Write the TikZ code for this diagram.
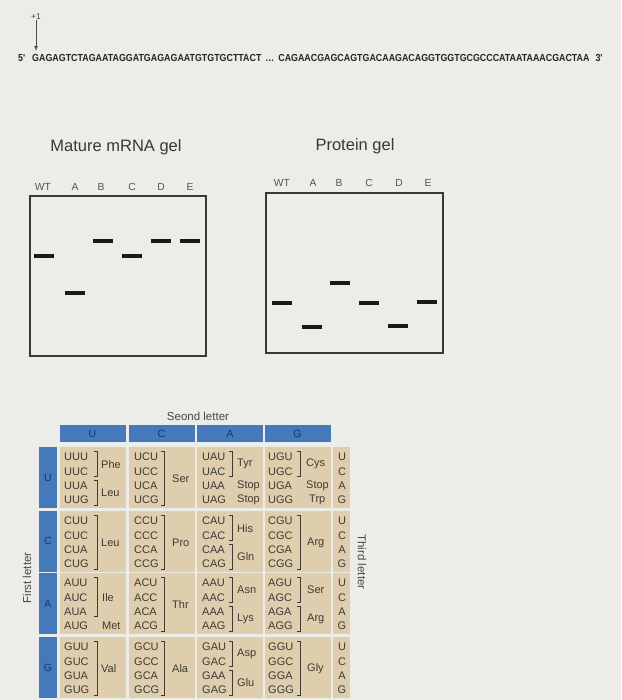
\documentclass[tikz,border=0pt]{standalone}
\usepackage{fontspec}
\setmainfont{Liberation Sans}
\newfontfamily\seqfont{Liberation Sans}[FakeStretch=0.87]
\definecolor{paper}{RGB}{236,236,233}
\definecolor{tan}{RGB}{222,206,174}
\definecolor{headblue}{RGB}{68,121,186}
\definecolor{headtext}{RGB}{28,52,96}
\definecolor{ink}{RGB}{62,58,53}
\begin{document}
\begin{tikzpicture}[x=1pt,y=-1pt,
	band/.style={fill=black!90, minimum width=20pt, minimum height=3.5pt, inner sep=0pt},
	lanelab/.style={inner sep=0pt, text=black!68, font=\fontsize{10.3}{10}\selectfont},
	geltitle/.style={inner sep=0pt, text=black!78, font=\fontsize{16.5}{17}\selectfont},
	gelbox/.style={draw=black!78, line width=1.8pt},
	headcell/.style={fill=headblue, text=headtext, inner sep=0pt, minimum height=17pt, font=\fontsize{10.5}{10}\selectfont},
	cell/.style={fill=tan, inner sep=0pt, minimum height=61pt},
	codon/.style={anchor=west, inner sep=0pt, text=ink, font=\fontsize{11}{11}\selectfont},
	aa/.style={inner sep=0pt, text=ink, font=\fontsize{11}{11}\selectfont},
	side/.style={inner sep=0pt, text=black!72, font=\fontsize{11.5}{11}\selectfont},
	brk/.style={draw=ink, line width=0.8pt}]
	\fill[paper] (0,0) rectangle (621,700);
	\useasboundingbox (0,0) rectangle (621,700);
	% sequence
	\node[inner sep=0pt, text=black!75, font=\fontsize{8.5}{9}\selectfont] (plus) at (36,17) {+1};
	\coordinate (tip) at (36,51);
	\draw[->,>=latex, black!70, line width=0.7pt] (plus) -- (tip);
	\node[anchor=west, inner sep=0pt, text=black!85, font={\fontsize{10.2}{10}\seqfont\bfseries}] (seq) at (18,57.5)
		{5'\hspace{7pt}GAGAGTCTAGAATAGGATGAGAGAATGTGTGCTTACT\hspace{4pt}…\hspace{4pt}CAGAACGAGCAGTGACAAGACAGGTGGTGCGCCCATAATAAACGACTAA\hspace{6pt}3'};
	% gels
	\node[geltitle] (mtitle) at (116,147) {Mature mRNA gel};
	\node[geltitle] (ptitle) at (355,146) {Protein gel};
	\foreach \lane/\lx in {WT/43,A/75,B/101,C/132,D/161,E/190}
		\node[lanelab] (ml\lane) at (\lx,187) {\lane};
	\foreach \lane/\lx in {WT/282,A/313,B/339,C/369,D/399,E/428}
		\node[lanelab] (pl\lane) at (\lx,183) {\lane};
	\draw[gelbox] (30,196) rectangle (206,356);
	\draw[gelbox] (266,193) rectangle (443,353);
	\foreach \lane/\lx/\ly in {WT/44/256,A/74.5/293,B/103/241,C/132/256,D/161/241,E/190/241}
		\node[band] (m\lane) at (\lx,\ly) {};
	\foreach \lane/\lx/\ly in {WT/282/303,A/311.5/327,B/340/283,C/369/303,D/398/326,E/427/302}
		\node[band] (p\lane) at (\lx,\ly) {};
	% codon table
	\node[side] (second) at (198,416) {Seond letter};
	\node[side, rotate=90] (first) at (27,578) {First letter};
	\node[side, rotate=-90] (third) at (362,562) {Third letter};
	\foreach \col/\hx in {U/92.5,C/161.5,A/230,G/297.5}
		\node[headcell, minimum width=66pt] (h\col) at (\hx,433.5) {\col};
	\foreach \row/\ly in {U/477.5,C/541,A/603.5,G/667.5} {
		\node[headcell, minimum width=18pt, minimum height=61pt] (f\row) at (48,\ly) {\row};
		\foreach \col/\hx in {U/92.5,C/161.5,A/230,G/297.5}
			\node[cell, minimum width=66pt] (k\row\col) at (\hx,\ly) {};
		\node[cell, minimum width=17pt] (k\row T) at (341.5,\ly) {};
	}
	\foreach \row/\ry in {U/457,C/521,A/583,G/647}
		\foreach \col/\cx in {U/64,C/134,A/202,G/268}
			\foreach \last [count=\i from 0] in {U,C,A,G}
				\node[codon] (\row\col\last) at (\cx,\ry+14.3*\i) {\row\col\last};
	\foreach \ry in {457,521,583,647}
		\foreach \last [count=\i from 0] in {U,C,A,G}
			\node[aa] (t\ry\last) at (342,\ry+14.3*\i) {\last};
	% brackets: x, row top, first line, last line
	\foreach \bx/\T/\i/\j in {97/447/0/1, 97/447/2/3, 164/447/0/3, 232/447/0/1, 300/447/0/1,
			97/511/0/3, 164/511/0/3, 232/511/0/1, 232/511/2/3, 300/511/0/3,
			97/573/0/2, 164/573/0/3, 232/573/0/1, 232/573/2/3, 300/573/0/1, 300/573/2/3,
			97/637/0/3, 164/637/0/3, 232/637/0/1, 232/637/2/3, 300/637/0/3}
		\draw[brk] (\bx-3,\T+4.5+14.3*\i) -| (\bx,\T+15+14.3*\j) -- ++(-3,0);
	\foreach \ax/\ay/\aname [count=\n] in {101/464.2/Phe, 101/492.8/Leu, 172/478.4/Ser, 237/464.2/Tyr,
			237/485.6/Stop, 237/499.9/Stop, 306/464.2/Cys, 306/485.6/Stop, 309/499.9/Trp,
			101/542.5/Leu, 172/542.5/Pro, 237/528.2/His, 237/556.8/Gln, 307/542.5/Arg,
			102/597.3/Ile, 102/625.9/Met, 172/604.5/Thr, 237/590.2/Asn, 237/618.8/Lys, 307/590.2/Ser, 307/618.8/Arg,
			101/668.5/Val, 172/668.5/Ala, 237/654.2/Asp, 237/682.8/Glu, 307/668.5/Gly}
		\node[aa, anchor=west] (aa\n) at (\ax,\ay) {\aname};
\end{tikzpicture}
\end{document}
